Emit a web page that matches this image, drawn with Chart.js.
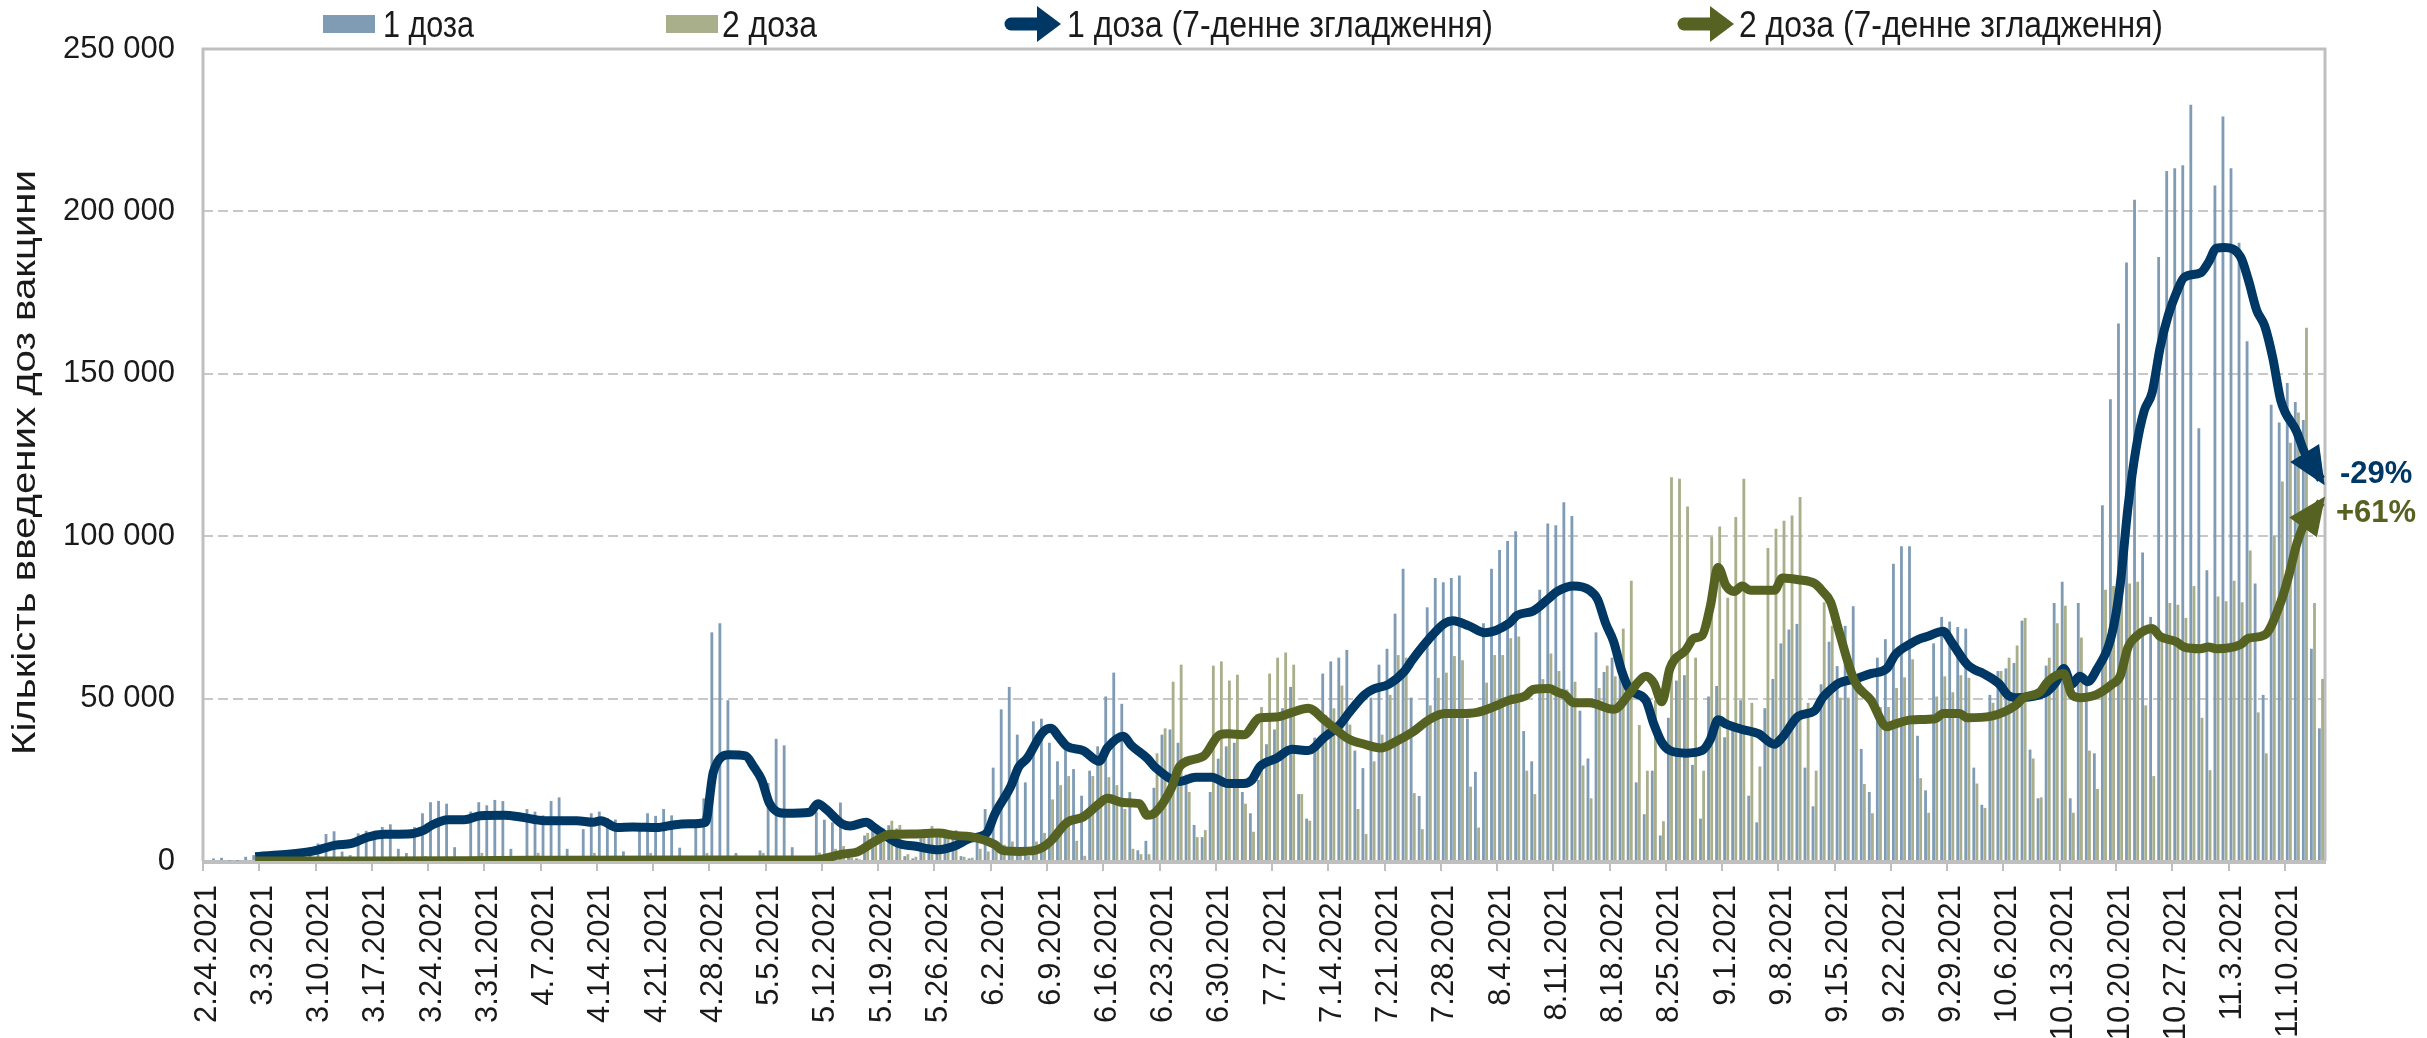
<!DOCTYPE html>
<html>
<head>
<meta charset="utf-8">
<script src="https://cdn.jsdelivr.net/npm/chart.js@4.4.1/dist/chart.umd.min.js"></script>
<style>
  html, body { margin: 0; padding: 0; background: #fff; }
</style>
</head>
<body>
<canvas id="chart" width="2427" height="1038"></canvas>
<script>
// daily doses, starting 2.24.2021 (one value per day)
const dose1 = [
  300, 800, 1000, 100, 50, 1300, 1800,
  2500, 2500, 2800, 1500, 500, 3000, 4250,
  5400, 8300, 9150, 2900, 1800, 8500, 9300,
  9300, 10450, 11300, 3750, 2450, 10450, 14700,
  18100, 18500, 17650, 4250, 1000, 15200, 18100,
  17150, 18800, 18450, 3750, 500, 16000, 15200,
  14050, 18450, 19600, 3750, 500, 9800, 14700,
  15200, 13250, 12750, 2950, 500, 9500, 14700,
  13900, 16000, 14050, 4100, 500, 11450, 19300,
  70400, 73200, 49500, 2450, 500, 1000, 3250,
  24000, 37600, 35600, 4250, 500, 1500, 15200,
  12700, 11900, 18000, 1500, 800, 7850, 9500,
  9000, 11000, 10000, 1500, 800, 7000, 8500,
  8000, 7500, 8000, 1500, 800, 7000, 16000,
  28750, 46700, 53600, 38900, 24200, 43000, 43800,
  36400, 30700, 34800, 28300, 20100, 27800, 35300,
  50650, 58000, 48400, 21200, 3300, 6200, 22550,
  38900, 40500, 36400, 26600, 11100, 7350, 21250,
  31500, 35300, 36400, 21250, 14700, 25000, 35950,
  40500, 47050, 53600, 20600, 13050, 38000, 57700,
  61450, 62600, 65000, 34000, 28600, 50300, 60450,
  65350, 76150, 90000, 50300, 20000, 78100, 87100,
  85800, 87100, 87900, 43800, 27450, 73200, 90000,
  95750, 98500, 101500, 40000, 30700, 83500, 103900,
  103400, 110450, 106200, 46250, 31550, 70400, 58200,
  62600, 57200, 55000, 24200, 14400, 27800, 7850,
  44100, 55550, 57200, 29600, 13050, 50650, 53900,
  38100, 42150, 49500, 20100, 11900, 47050, 56050,
  67000, 71250, 73000, 28750, 16850, 54400, 67500,
  60000, 72400, 78450, 34500, 21250, 62600, 68300,
  91500, 96900, 96900, 38550, 21750, 67000, 75150,
  73700, 72050, 71550, 28750, 17300, 51150, 58500,
  59300, 60950, 74000, 34300, 19300, 60150, 79400,
  85950, 19300, 79400, 55000, 33150, 109500, 142150,
  165500, 184300, 203600, 95000, 75150, 185950, 212400,
  213250, 214200, 232850, 133200, 89550, 208000, 229250,
  213250, 190350, 160000, 85450, 51150, 140500, 135000,
  147200, 141350, 135800, 65350, 40850
];
const dose2 = [
  0, 0, 0, 0, 0, 0, 0,
  0, 0, 0, 0, 0, 0, 0,
  0, 0, 0, 0, 0, 0, 0,
  0, 0, 0, 0, 0, 0, 1500,
  0, 0, 0, 0, 0, 0, 2500,
  0, 0, 0, 0, 0, 0, 2500,
  0, 0, 0, 0, 0, 0, 2500,
  0, 0, 0, 0, 0, 0, 2500,
  0, 0, 0, 0, 0, 0, 2500,
  300, 300, 200, 0, 0, 0, 2500,
  500, 400, 500, 100, 0, 300, 2600,
  2000, 3750, 4600, 1000, 500, 8650, 9500,
  10000, 12400, 11100, 2100, 1300, 9800, 10800,
  9500, 9000, 9500, 1300, 1000, 3750, 2950,
  4000, 5000, 6000, 3000, 1500, 6000, 8650,
  18950, 23350, 26150, 6200, 1600, 26150, 31550,
  25800, 23350, 16000, 3750, 2100, 2100, 33150,
  40850, 55200, 60450, 21250, 7350, 9500, 60150,
  61450, 55550, 57350, 17650, 9000, 47400, 57700,
  62600, 64200, 60450, 20600, 12400, 35000, 45000,
  47000, 54000, 42000, 16000, 8300, 30700, 38900,
  51150, 63400, 62600, 20900, 9800, 47900, 56400,
  58000, 63100, 61800, 22900, 10300, 54900, 63400,
  63400, 68600, 69100, 27800, 20600, 56000, 63900,
  58500, 52800, 55200, 29400, 19300, 53250, 60150,
  56850, 71550, 86300, 41850, 27800, 49500, 12250,
  118150, 117650, 109150, 62600, 27800, 99850, 102950,
  81050, 105900, 117650, 48700, 29100, 96400, 102300,
  104750, 106400, 112100, 48700, 27800, 79700, 72400,
  50300, 50300, 55200, 23700, 14700, 47400, 47400,
  53250, 56550, 62100, 25500, 14850, 50650, 56850,
  51950, 57200, 56400, 23850, 16350, 48700, 58500,
  62600, 66350, 74850, 31550, 19600, 62600, 73200,
  78600, 14850, 68800, 34000, 22200, 83500, 84650,
  86000, 85450, 85950, 47900, 26150, 68300, 79400,
  78900, 74850, 84650, 44100, 27950, 81400, 80000,
  86300, 79700, 95600, 45750, 33150, 100150, 116850,
  128750, 138050, 164200, 79400, 56050
];

// 7-day smoothed lines, read as [day index, value]
const smooth1 = [
  [6, 1300], [13, 2950], [16, 4900], [18, 5400], [20, 7350], [22, 8200], [25, 8300],
  [27, 9500], [28, 11100], [30, 12700], [32, 12700], [34, 13900], [37, 14050], [39, 13550],
  [42, 12400], [46, 12400], [48, 11900], [49, 12400], [51, 10300], [53, 10450], [56, 10300],
  [58, 11100], [60, 11450], [62, 11900], [63, 27450], [65, 32700], [67, 32350], [68, 29100],
  [69, 25000], [70, 17650], [72, 14700], [75, 15000], [76, 17650], [77, 16000], [79, 11450],
  [80, 10800], [82, 11900], [83, 10300], [86, 5400], [88, 4600], [91, 3450], [93, 4600],
  [95, 7000], [97, 8650], [98, 14400], [100, 23000], [101, 29000], [102, 31550], [104, 39700],
  [105, 40850], [106, 38100], [107, 35300], [109, 34000], [111, 30700], [112, 34800], [114, 38400],
  [115, 35600], [117, 31550], [118, 28750], [121, 24500], [123, 25800], [125, 25800], [127, 23850],
  [129, 23850], [130, 25000], [131, 29100], [133, 31550], [135, 34400], [137, 34000], [139, 38100],
  [141, 42150], [142, 45400], [144, 51150], [145, 52800], [147, 54400], [149, 58500], [150, 62100],
  [152, 68300], [154, 73200], [155, 74000], [157, 72400], [159, 70300], [162, 73200], [163, 75650],
  [165, 77000], [167, 81000], [168, 83000], [170, 84650], [172, 83350], [173, 80550], [174, 73200],
  [175, 67500], [176, 58500], [177, 52800], [179, 49500], [180, 42150], [181, 36450], [182, 34000],
  [184, 33200], [186, 34000], [187, 37250], [188, 43450], [189, 42150], [191, 40500], [193, 39200],
  [195, 35950], [196, 38100], [198, 44600], [200, 46250], [201, 50300], [202, 52800], [203, 54750],
  [205, 56050], [207, 57700], [209, 59300], [210, 63400], [212, 67000], [213, 68300], [214, 69100],
  [216, 70750], [217, 67500], [219, 60450], [220, 58800], [221, 57700], [223, 54400], [224, 51150],
  [225, 50300], [228, 51150], [229, 52300], [230, 55000], [231, 59300], [232, 54400], [233, 56850],
  [234, 55200], [235, 58500], [237, 69950], [238, 84650], [239, 109150], [240, 127100], [241, 138550],
  [242, 144300], [243, 158200], [244, 168000], [245, 174850], [246, 179750], [248, 181050], [249, 184300],
  [250, 188700], [251, 188850], [253, 185950], [254, 178600], [255, 169600], [256, 164700], [257, 154900],
  [258, 141800], [260, 132050], [261, 125500], [263, 117500]
];
const smooth2 = [
  [6, 0], [20, 0], [40, 200], [60, 300], [75, 300], [76, 400], [79, 2100], [81, 2900],
  [83, 5900], [85, 8200], [88, 8350], [91, 8650], [93, 7850], [95, 7500], [98, 5050],
  [99, 3250], [101, 2950], [103, 3250], [104, 4250], [105, 6200], [107, 11900], [109, 13550],
  [111, 17650], [112, 19300], [114, 18000], [116, 17650], [117, 14050], [118, 15000], [120, 22550],
  [121, 29100], [124, 32350], [126, 38900], [127, 39200], [129, 38900], [131, 44100], [133, 44300],
  [135, 45750], [137, 47050], [139, 43450], [140, 41350], [142, 37600], [144, 35950], [146, 34800],
  [148, 36900], [150, 39700], [152, 43450], [154, 45400], [156, 45400], [158, 45750], [160, 47400],
  [162, 49500], [164, 50800], [165, 52800], [167, 53100], [168, 52000], [169, 51000], [170, 48700],
  [172, 48700], [175, 46700], [177, 51650], [178, 54900], [179, 56850], [180, 54750], [181, 49000],
  [182, 59300], [184, 65050], [185, 68600], [186, 69450], [187, 78100], [188, 90350], [189, 84650],
  [190, 83000], [191, 84650], [192, 83350], [195, 83350], [196, 87100], [198, 86600], [200, 85450],
  [201, 83000], [202, 79700], [203, 71000], [205, 55200], [207, 49500], [209, 41350], [210, 42150],
  [212, 43450], [215, 43800], [216, 45400], [218, 45400], [219, 44100], [222, 44600], [225, 47900],
  [226, 50300], [228, 51950], [229, 55200], [231, 57700], [232, 51150], [233, 50300], [235, 51150],
  [237, 54400], [238, 56850], [239, 65850], [240, 69100], [242, 71550], [243, 69100], [245, 67500],
  [246, 65850], [248, 65350], [249, 65850], [250, 65350], [253, 66650], [254, 68600], [256, 69600],
  [258, 79700], [259, 87900], [260, 97700], [261, 104000], [262, 107000], [263, 110500]
];

const seriesNames = ['1 доза', '2 доза', '1 доза (7-денне згладження)', '2 доза (7-денне згладження)'];
const endNotes = ['-29%', '+61%'];
const yTitle = 'Кількість введених доз вакцини';
const yTicks = [0, 50000, 100000, 150000, 200000, 250000];

const FONT = "'Liberation Sans', Arial, sans-serif";
const C_BAR1 = '#809cb5', C_BAR2 = '#a9ae8b', C_LINE1 = '#003865', C_LINE2 = '#556222';

// day labels from 2.24.2021
const labels = [];
(function () {
  const d = new Date(2021, 1, 24);
  for (let i = 0; i < dose1.length; i++) {
    labels.push((d.getMonth() + 1) + '.' + d.getDate() + '.' + d.getFullYear());
    d.setDate(d.getDate() + 1);
  }
})();

function toSeries(pairs) {
  const a = labels.map(() => null);
  pairs.forEach(([d, v]) => { a[d] = v; });
  return a;
}

function fmt(v) {
  return String(v).replace(/\B(?=(\d{3})+(?!\d))/g, ' ');
}

function arrowHead(ctx, x, y, ang, len, half, color) {
  ctx.save();
  ctx.translate(x, y);
  ctx.rotate(ang);
  ctx.fillStyle = color;
  ctx.beginPath();
  ctx.moveTo(0, 0);
  ctx.lineTo(-len, -half);
  ctx.lineTo(-len, half);
  ctx.closePath();
  ctx.fill();
  ctx.restore();
}

// text squeezed/stretched to a given run length
function fitText(ctx, text, width) {
  const w = ctx.measureText(text).width;
  ctx.scale(width / w, 1);
  ctx.fillText(text, 0, 0);
}

// plot frame like excel
const frame = {
  id: 'frame',
  beforeDatasetsDraw(chart) {
    const { ctx, chartArea: a } = chart;
    ctx.save();
    ctx.strokeStyle = '#bfbfbf';
    ctx.lineWidth = 3;
    ctx.beginPath();
    ctx.moveTo(a.left, a.bottom);
    ctx.lineTo(a.left, a.top);
    ctx.lineTo(a.right, a.top);
    ctx.lineTo(a.right, a.bottom);
    ctx.stroke();
    ctx.lineWidth = 4;
    ctx.beginPath();
    ctx.moveTo(a.left - 1, a.bottom + 1);
    ctx.lineTo(a.right + 1, a.bottom + 1);
    ctx.stroke();
    ctx.restore();
  }
};

// arrow heads at the end of smoothed lines + % notes
const lineEnds = {
  id: 'lineEnds',
  afterDatasetsDraw(chart) {
    const ctx = chart.ctx;
    [2, 3].forEach(i => {
      const color = chart.data.datasets[i].borderColor;
      const pts = chart.getDatasetMeta(i).data.filter(p => !p.skip);
      const a = pts[pts.length - 1], b = pts[pts.length - 2];
      const ang = Math.atan2(a.y - b.y, a.x - b.x);
      arrowHead(ctx, a.x + Math.cos(ang) * 7, a.y + Math.sin(ang) * 7, ang, 38, 17, color);
    });
    ctx.save();
    ctx.font = 'bold 31px ' + FONT;
    ctx.textBaseline = 'alphabetic';
    ctx.fillStyle = C_LINE1;
    ctx.fillText(endNotes[0], 2340, 483);
    ctx.fillStyle = C_LINE2;
    ctx.fillText(endNotes[1], 2336, 522);
    ctx.restore();
  }
};

// legend on top and the y title
const topLegend = {
  id: 'topLegend',
  afterDraw(chart) {
    const ctx = chart.ctx;
    const items = [
      { kind: 'box', x: 323, color: C_BAR1, tx: 383, tw: 91 },
      { kind: 'box', x: 666, color: C_BAR2, tx: 722, tw: 95 },
      { kind: 'arrow', x: 1004, color: C_LINE1, tx: 1067, tw: 426 },
      { kind: 'arrow', x: 1677, color: C_LINE2, tx: 1739, tw: 424 }
    ];
    ctx.save();
    items.forEach((it, i) => {
      ctx.fillStyle = it.color;
      if (it.kind === 'box') {
        ctx.fillRect(it.x, 15, 52, 18);
      } else {
        ctx.lineWidth = 13;
        ctx.lineCap = 'round';
        ctx.strokeStyle = it.color;
        ctx.beginPath();
        ctx.moveTo(it.x + 7, 24);
        ctx.lineTo(it.x + 36, 24);
        ctx.stroke();
        arrowHead(ctx, it.x + 57, 24, 0, 24, 18, it.color);
      }
      ctx.save();
      ctx.translate(it.tx, 37);
      ctx.font = '36px ' + FONT;
      ctx.fillStyle = '#1a1a1a';
      ctx.textBaseline = 'alphabetic';
      fitText(ctx, seriesNames[i], it.tw);
      ctx.restore();
    });
    // y axis title
    ctx.save();
    ctx.translate(26, 463);
    ctx.rotate(-Math.PI / 2);
    ctx.font = '33px ' + FONT;
    ctx.fillStyle = '#1a1a1a';
    ctx.textBaseline = 'middle';
    ctx.translate(-292, 0);
    fitText(ctx, yTitle, 585);
    ctx.restore();
    ctx.restore();
  }
};

new Chart(document.getElementById('chart'), {
  data: {
    labels: labels,
    datasets: [
      { type: 'bar', label: seriesNames[0], data: dose1, backgroundColor: C_BAR1, order: 2,
        categoryPercentage: 0.78, barPercentage: 0.9 },
      { type: 'bar', label: seriesNames[1], data: dose2, backgroundColor: C_BAR2, order: 3,
        categoryPercentage: 0.78, barPercentage: 0.9 },
      { type: 'line', label: seriesNames[2], data: toSeries(smooth1), borderColor: C_LINE1,
        borderWidth: 9, pointRadius: 0, spanGaps: true, cubicInterpolationMode: 'monotone',
        borderJoinStyle: 'round', order: 1 },
      { type: 'line', label: seriesNames[3], data: toSeries(smooth2), borderColor: C_LINE2,
        borderWidth: 9, pointRadius: 0, spanGaps: true, cubicInterpolationMode: 'monotone',
        borderJoinStyle: 'round', order: 0 }
    ]
  },
  options: {
    responsive: false,
    devicePixelRatio: 1,
    animation: false,
    layout: { padding: { top: 49, right: 102, left: 0, bottom: 0 } },
    plugins: {
      legend: { display: false },
      tooltip: { enabled: false }
    },
    scales: {
      x: {
        type: 'category',
        offset: true,
        grid: {
          offset: true,
          drawOnChartArea: false,
          drawTicks: true,
          tickLength: 10,
          lineWidth: 2,
          color: c => (c.index % 7 === 0 ? '#bfbfbf' : 'rgba(0,0,0,0)')
        },
        border: { display: false },
        ticks: {
          autoSkip: false,
          minRotation: 90,
          maxRotation: 90,
          padding: 14,
          color: '#1a1a1a',
          font: { family: FONT, size: 31 },
          callback: (v, i) => (i % 7 === 0 ? labels[i] : '')
        },
        afterFit: s => { s.height = 177; }
      },
      y: {
        min: 0,
        max: 250000,
        afterBuildTicks: s => { s.ticks = yTicks.map(v => ({ value: v })); },
        grid: {
          drawTicks: false,
          lineWidth: 2,
          color: c => (c.tick.value === 0 || c.tick.value === 250000 ? 'rgba(0,0,0,0)' : '#c8c8c8')
        },
        border: { display: false, dash: [10, 5] },
        ticks: {
          padding: 28,
          color: '#1a1a1a',
          font: { family: FONT, size: 31 },
          callback: v => fmt(v)
        },
        afterFit: s => { s.width = 203; }
      }
    }
  },
  plugins: [frame, lineEnds, topLegend]
});
</script>
</body>
</html>
